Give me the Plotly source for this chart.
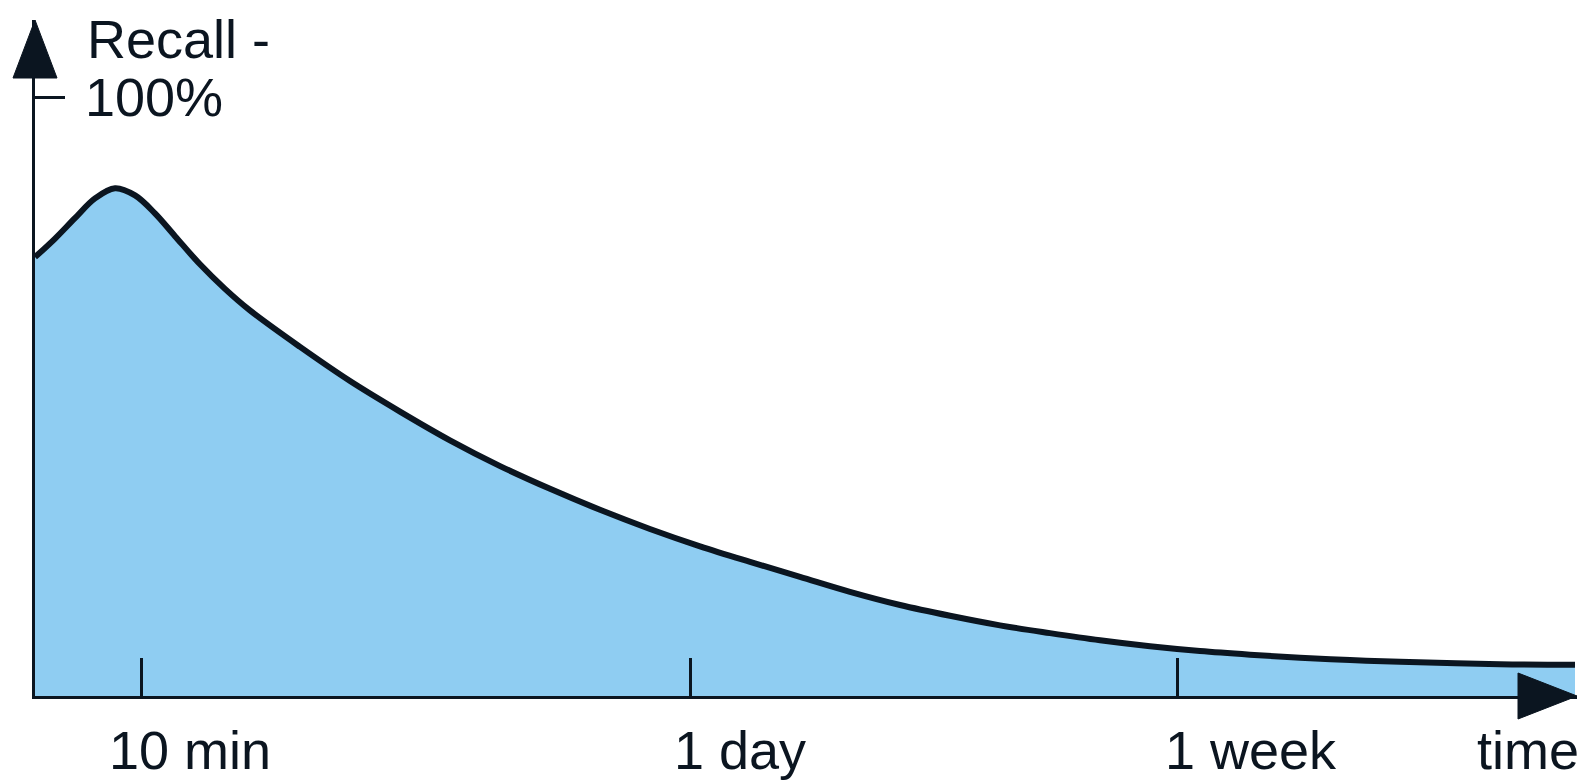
import plotly.graph_objects as go

# Data (x: relative time position 0-100, y: recall %)
time_pos = [0, 1.30, 2.59, 3.89, 5.19, 6.49, 7.78, 9.08, 10.70, 12.32, 13.94,
            17.19, 20.43, 23.67, 26.91, 30.16, 33.40, 36.64, 39.88, 43.13, 46.37,
            49.61, 52.85, 56.10, 59.34, 62.58, 65.82, 69.07, 72.31, 75.55, 78.79,
            82.04, 85.28, 88.52, 95.01, 99.87]
recall = [73.3, 76.4, 79.8, 83.1, 84.8, 83.6, 80.6, 76.8, 72.1, 68.0, 64.4,
          58.3, 52.6, 47.5, 42.7, 38.4, 34.6, 31.1, 27.9, 25.0, 22.4,
          19.9, 17.4, 15.2, 13.4, 11.8, 10.5, 9.3, 8.3, 7.5, 6.9,
          6.4, 6.0, 5.7, 5.3, 5.2]

tick_positions = [6.9, 42.5, 74.1]
tick_labels = ["10 min", "1 day", "1 week"]
y_tick_value = [100]
y_title_top = "Recall -"
y_title_value = "100%"
x_title = "time"

INK = "#0b1520"
FILL = "#8fcdf2"
FONT = "Liberation Sans, Arial, sans-serif"
FS = 54

fig = go.Figure()
fig.add_trace(go.Scatter(
    x=time_pos, y=recall, mode="lines",
    line=dict(color=INK, width=6, shape="spline", smoothing=1.0),
    fill="tozeroy", fillcolor=FILL,
    hoverinfo="skip", showlegend=False,
))

fig.update_layout(
    width=1585, height=780,
    margin=dict(l=35, r=8, t=20, b=84),
    paper_bgcolor="white", plot_bgcolor="white",
    font=dict(family=FONT, size=FS, color=INK),
    xaxis=dict(range=[0, 100], showgrid=False, zeroline=False,
               showline=True, linecolor=INK, linewidth=3,
               tickmode="array", tickvals=tick_positions, ticks="inside",
               ticklen=38, tickwidth=3, tickcolor=INK, showticklabels=False),
    yaxis=dict(range=[0, 112.9], showgrid=False, zeroline=False,
               showline=True, linecolor=INK, linewidth=3,
               tickmode="array", tickvals=y_tick_value, ticks="inside",
               ticklen=30, tickwidth=3, tickcolor=INK, showticklabels=False),
)

# Tick labels (left-aligned, first character under tick)
shifts = {"10 min": -34, "1 day": -18, "1 week": -15}
for pos, lab in zip(tick_positions, tick_labels):
    fig.add_annotation(x=pos, y=0, xref="x", yref="y", text=lab, showarrow=False,
                       xanchor="left", yanchor="top", xshift=shifts[lab], yshift=-22,
                       font=dict(family=FONT, size=FS, color=INK))

fig.add_annotation(x=100, y=0, xref="x", yref="y", text=x_title, showarrow=False,
                   xanchor="right", yanchor="top", xshift=4, yshift=-22,
                   font=dict(family=FONT, size=FS, color=INK))

fig.add_annotation(x=0, y=100, xref="x", yref="y", text=y_title_top, showarrow=False,
                   xanchor="left", yanchor="middle", xshift=50, yshift=58,
                   font=dict(family=FONT, size=FS, color=INK))
fig.add_annotation(x=0, y=100, xref="x", yref="y", text=y_title_value, showarrow=False,
                   xanchor="left", yanchor="middle", xshift=48, yshift=0,
                   font=dict(family=FONT, size=FS, color=INK))

# Arrowheads at the axis ends
fig.add_shape(type="path", xref="paper", yref="paper", xsizemode="pixel", ysizemode="pixel",
              xanchor=1, yanchor=0, path="M -59 23 L 0 0 L -59 -23 Z",
              fillcolor=INK, line=dict(color=INK, width=1))
fig.add_shape(type="path", xref="paper", yref="paper", xsizemode="pixel", ysizemode="pixel",
              xanchor=0, yanchor=1, path="M -22 -58 L 0 0 L 22 -58 Z",
              fillcolor=INK, line=dict(color=INK, width=1))

fig.write_html("out.html", config={"displayModeBar": False},
               post_script="document.body.style.margin='0';document.body.style.overflow='hidden';")
